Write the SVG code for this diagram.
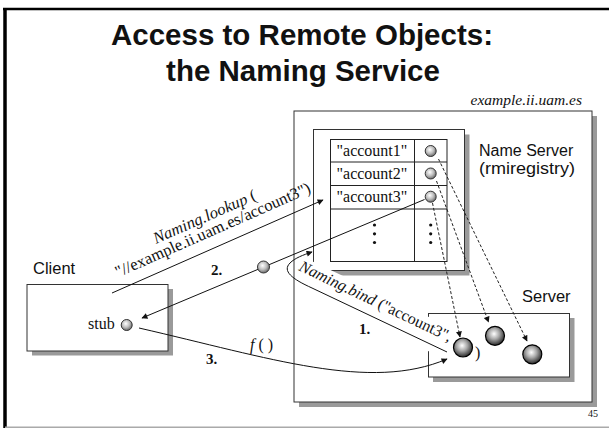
<svg xmlns="http://www.w3.org/2000/svg" width="609" height="428" viewBox="0 0 609 428">
  <style>
    .frame { fill: #fff; stroke: #333; stroke-width: 1; }
    .shadow { fill: #9a9a9a; }
    .grid { fill: none; stroke: #222; stroke-width: 1; }
    .sans { font-family: "Liberation Sans", Arial, sans-serif; fill: #111; }
    .serif { font-family: "Liberation Serif", "Times New Roman", serif; fill: #111; }
    .it { font-style: italic; }
    .num { font-family: "Liberation Serif", "Times New Roman", serif; font-weight: bold; font-size: 15px; fill: #111; }
    .conn { fill: none; stroke: #111; stroke-width: 1; }
    .dash { fill: none; stroke: #222; stroke-width: 1; stroke-dasharray: 3 2; }
    .dot { fill: #111; }
  </style>
  <defs>
    <radialGradient id="ballSmall" cx="0.42" cy="0.38" r="0.62">
      <stop offset="0" stop-color="#ffffff"/>
      <stop offset="0.55" stop-color="#bdbdbd"/>
      <stop offset="1" stop-color="#6a6a6a"/>
    </radialGradient>
    <radialGradient id="ballBig" cx="0.45" cy="0.4" r="0.62">
      <stop offset="0" stop-color="#ffffff"/>
      <stop offset="0.45" stop-color="#a8a8a8"/>
      <stop offset="1" stop-color="#222222"/>
    </radialGradient>
    <marker id="arrow" viewBox="0 0 10 10" refX="9" refY="5" markerWidth="7" markerHeight="6" markerUnits="userSpaceOnUse" orient="auto">
      <path d="M0,0 L10,5 L0,10 z" fill="#111"/>
    </marker>
  </defs>

  <!-- page frame -->
  <rect x="0" y="0" width="609" height="428" fill="#fff"/>
  <line x1="3" y1="9" x2="609" y2="9" stroke="#000" stroke-width="2.5"/>
  <line x1="5" y1="8" x2="5" y2="428" stroke="#000" stroke-width="3.5"/>
  <line x1="5" y1="427.3" x2="609" y2="427.3" stroke="#aaa" stroke-width="1.5"/>

  <!-- title -->
  <g id="title" class="sans" font-weight="bold" font-size="29.5" text-anchor="middle">
    <text x="302" y="45">Access to Remote Objects:</text>
    <text x="303" y="81">the Naming Service</text>
  </g>

  <!-- host machine -->
  <g id="host">
    <rect class="shadow" x="299" y="116" width="298" height="291"/>
    <rect class="frame" x="294" y="111" width="298" height="291"/>
    <text class="serif it" x="582" y="105" font-size="15.5" text-anchor="end">example.ii.uam.es</text>
  </g>

  <!-- name server (rmiregistry) -->
  <g id="nameserver">
    <rect class="shadow" x="318.5" y="134.5" width="151" height="141"/>
    <rect class="frame" x="313.5" y="129.5" width="151" height="141"/>
    <text class="sans" x="479" y="156" font-size="16">Name Server</text>
    <text class="sans" x="479" y="174" font-size="16" textLength="96" lengthAdjust="spacingAndGlyphs">(rmiregistry)</text>
  </g>

  <!-- server process -->
  <g id="server">
    <rect class="shadow" x="433" y="318" width="141.5" height="64"/>
    <rect class="frame" x="428.5" y="313.5" width="141" height="63.5"/>
    <text class="sans" x="522" y="301.5" font-size="16.5">Server</text>
  </g>

  <!-- client process -->
  <g id="client">
    <rect class="shadow" x="32" y="289" width="141" height="66.5"/>
    <rect class="frame" x="27" y="284.5" width="141" height="66.5"/>
    <text class="sans" x="33" y="274" font-size="16.5">Client</text>
    <text class="serif" x="88" y="329" font-size="16">stub</text>
    <circle cx="126.7" cy="325" r="5.5" fill="url(#ballSmall)" stroke="#333" stroke-width="1"/>
  </g>

  <!-- opaque backing of the bind label -->
  <rect x="5" y="-14" width="160" height="31" fill="#fff" transform="translate(298 270) rotate(25.5)"/>

  <!-- registry table -->
  <g id="table">
    <rect class="grid" x="330.5" y="139.5" width="116.5" height="122"/>
    <line class="grid" x1="414.5" y1="139.5" x2="414.5" y2="261.5"/>
    <line class="grid" x1="330.5" y1="162" x2="447" y2="162"/>
    <line class="grid" x1="330.5" y1="185.5" x2="447" y2="185.5"/>
    <line class="grid" x1="330.5" y1="209" x2="447" y2="209"/>
    <g class="serif" font-size="16">
      <text x="336.5" y="155.5">"account1"</text>
      <text x="336.5" y="178.5">"account2"</text>
      <text x="336.5" y="202">"account3"</text>
    </g>
    <circle cx="430.7" cy="151" r="5.5" fill="url(#ballSmall)" stroke="#333"/>
    <circle cx="430.7" cy="173.5" r="5.5" fill="url(#ballSmall)" stroke="#333"/>
    <circle cx="430.7" cy="196.7" r="5.5" fill="url(#ballSmall)" stroke="#333"/>
    <circle class="dot" cx="374.5" cy="225" r="1.6"/>
    <circle class="dot" cx="374.5" cy="233.8" r="1.6"/>
    <circle class="dot" cx="374.5" cy="242.5" r="1.6"/>
    <circle class="dot" cx="430.7" cy="225" r="1.6"/>
    <circle class="dot" cx="430.7" cy="233.8" r="1.6"/>
    <circle class="dot" cx="430.7" cy="242.5" r="1.6"/>
  </g>

  <!-- connectors -->
  <g id="connectors">
    <!-- lookup request -->
    <line class="conn" x1="112" y1="293" x2="323" y2="200" marker-end="url(#arrow)"/>
    <!-- reference returned to the stub -->
    <line class="conn" x1="424.5" y1="199.5" x2="142" y2="318" marker-end="url(#arrow)"/>
    <!-- bind from the server object -->
    <path class="conn" d="M447,352 L312,288 C292,279 282,271 290,263 C295,258 303,255 312,252" marker-end="url(#arrow)"/>
    <!-- remote call f() -->
    <path class="conn" d="M139,328 C270,358 370,392 447,359" marker-end="url(#arrow)"/>
    <!-- registry entries pointing at the server objects -->
    <line class="dash" x1="438.5" y1="159" x2="527" y2="341" marker-end="url(#arrow)"/>
    <line class="dash" x1="436.5" y1="181" x2="488.5" y2="322" marker-end="url(#arrow)"/>
    <line class="dash" x1="432.5" y1="203" x2="460" y2="337" marker-end="url(#arrow)"/>
  </g>

  <!-- returned remote reference on the wire -->
  <circle cx="263.5" cy="267" r="6" fill="url(#ballSmall)" stroke="#333"/>

  <!-- server objects -->
  <g id="objects">
    <circle cx="463" cy="347.5" r="9.5" fill="url(#ballBig)" stroke="#000" stroke-width="1.2"/>
    <circle cx="495" cy="335.8" r="9.5" fill="url(#ballBig)" stroke="#000" stroke-width="1.2"/>
    <circle cx="532.3" cy="354.3" r="9.5" fill="url(#ballBig)" stroke="#000" stroke-width="1.2"/>
  </g>

  <!-- labels -->
  <g id="labels">
    <text class="serif" font-size="16.5" transform="translate(156 244) rotate(-23.8)"><tspan class="it">Naming.lookup</tspan> (</text>
    <text class="serif" font-size="16.5" transform="translate(118 277.5) rotate(-23.8)">"//example.ii.uam.es/account3")</text>
    <text class="serif" font-size="16" transform="translate(298 270) rotate(25.5)"><tspan class="it">Naming.bind</tspan> ("account3",</text>
    <text class="serif" x="475" y="358" font-size="16">)</text>
    <text class="serif" x="250" y="350" font-size="16"><tspan class="it">f</tspan> ( )</text>
    <text class="num" x="211" y="275">2.</text>
    <text class="num" x="359" y="333.5">1.</text>
    <text class="num" x="206" y="364">3.</text>
    <text class="serif" x="588" y="417" font-size="10" fill="#333">45</text>
  </g>
</svg>
